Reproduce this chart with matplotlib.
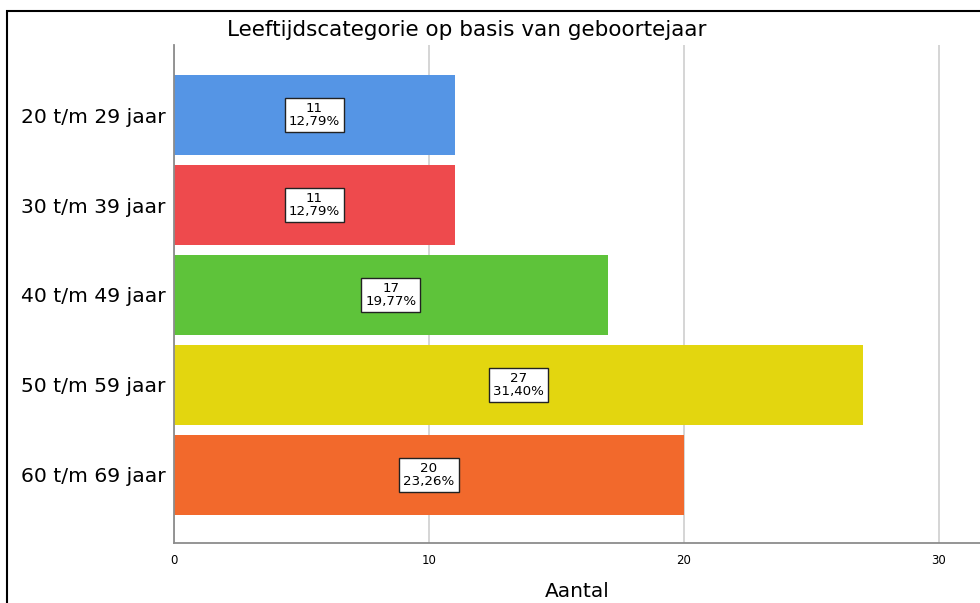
import matplotlib.pyplot as plt
import matplotlib.patches as patches
import numpy as np

# data
categories = ["20 t/m 29 jaar", "30 t/m 39 jaar", "40 t/m 49 jaar", "50 t/m 59 jaar", "60 t/m 69 jaar"]
counts = [11, 11, 17, 27, 20]
percents = ["12,79%", "12,79%", "19,77%", "31,40%", "23,26%"]
colors = ["#5595E5", "#EE4A4D", "#5EC33A", "#E3D60F", "#F2692C"]

fig = plt.figure(figsize=(9.8, 6.03), dpi=100)
ax = fig.add_axes([174/980, 60/603, 806/980, 498/603])

y = np.arange(len(categories))
ax.barh(y, counts, height=0.89, color=colors, zorder=2)

# labels in the middle of each bar
for i in range(len(counts)):
    ax.text(counts[i] / 2, y[i], str(counts[i]) + "\n" + percents[i],
            ha='center', va='center', fontsize=9.6, linespacing=0.95, zorder=3,
            bbox=dict(boxstyle='square,pad=0.3', fc='white', ec='#222222', lw=1))

ax.set_xlim(0, 806/25.5)
ax.set_ylim(4.756, -0.778)
ax.set_yticks(y)
ax.set_yticklabels(categories, fontsize=14.6)
ax.set_xticks([0, 10, 20, 30])
ax.set_xticklabels(["0", "10", "20", "30"], fontsize=8.5)
ax.tick_params(axis='both', length=0)
ax.tick_params(axis='x', pad=8)
ax.tick_params(axis='y', pad=6)
ax.set_xlabel("Aantal", fontsize=14.5, labelpad=11)

ax.grid(axis='x', color='#CACACA', lw=1.1, zorder=1)
ax.set_axisbelow(True)
for s in ["top", "right"]:
    ax.spines[s].set_visible(False)
for s in ["left", "bottom"]:
    ax.spines[s].set_color('#8C8C8C')
    ax.spines[s].set_linewidth(1.3)

fig.text(467/980, 1 - 30/603, "Leeftijdscategorie op basis van geboortejaar",
         ha='center', va='center', fontsize=15.5)

# frame around the chart (cut off at right and bottom)
frame = patches.Rectangle((7/980, -0.2), 1.2, 1.2 - 11/603, transform=fig.transFigure,
                          fill=False, ec='black', lw=1.5)
fig.patches.append(frame)

plt.savefig("out.png", dpi=100)
